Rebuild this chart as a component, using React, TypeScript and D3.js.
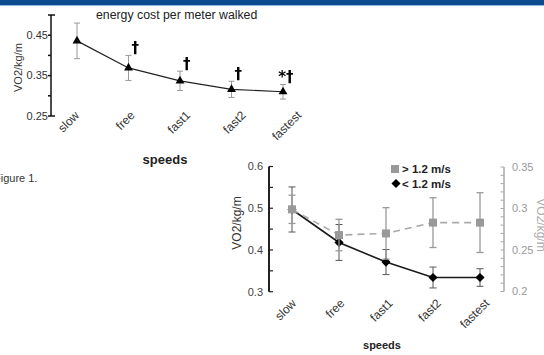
import React from "react";
import * as d3 from "d3";

// categories shared by both panels
const speeds = ["slow", "free", "fast1", "fast2", "fastest"];

// top panel: energy cost per meter walked
const energyMean = [0.436, 0.369, 0.337, 0.316, 0.31];
const energyErr = [0.044, 0.031, 0.024, 0.02, 0.018];
const energySig = ["", "†", "†", "†", "*†"];
const topTicks = [0.25, 0.35, 0.45];

// bottom panel: two speed groups, left and right axes
const under12Mean = [0.497, 0.418, 0.371, 0.334, 0.334];
const under12Err = [0.054, 0.043, 0.03, 0.025, 0.021];
const over12Mean = [0.299, 0.268, 0.27, 0.283, 0.283];
const over12Err = [0.017, 0.019, 0.031, 0.03, 0.036];
const leftTicks = [0.3, 0.4, 0.5, 0.6];
const rightTicks = [0.2, 0.25, 0.3, 0.35];
const legendLabels = ["> 1.2 m/s", "< 1.2 m/s"];

const FONT = "'Liberation Sans', Arial, sans-serif";
const W = 544;
const H = 355;

function ErrBar({ x, y0, y1, color, cap = 3, width = 1 }) {
  return (
    <g stroke={color} strokeWidth={width}>
      <line x1={x} x2={x} y1={y0} y2={y1} />
      <line x1={x - cap} x2={x + cap} y1={y0} y2={y0} />
      <line x1={x - cap} x2={x + cap} y1={y1} y2={y1} />
    </g>
  );
}

function TopChart() {
  const x = d3.scalePoint().domain(speeds).range([77, 283]);
  const xLab = d3.scalePoint().domain(speeds).range([80, 302]);
  const y = d3.scaleLinear().domain([0.25, 0.5]).range([116, 15]);
  const axisX = 51;
  const minor = y.ticks(5).filter((t) => !topTicks.some((m) => Math.abs(m - t) < 1e-6));
  const pts = speeds.map((s, i) => [x(s), y(energyMean[i])]);
  const tri = d3.symbol(d3.symbolTriangle, 34)();

  return (
    <g fontFamily={FONT}>
      <text x={96} y={19} fontSize={12.3} fill="#222">
        energy cost per meter walked
      </text>
      {/* y axis, bracket style */}
      <g stroke="#111" strokeWidth={1.5}>
        <line x1={axisX} x2={axisX} y1={y(0.5)} y2={y(0.25)} />
        <line x1={axisX} x2={axisX + 4} y1={y(0.5)} y2={y(0.5)} />
        <line x1={axisX} x2={axisX + 4} y1={y(0.25)} y2={y(0.25)} />
        {topTicks.concat(minor).map((t) => (
          <line key={t} x1={axisX - 3} x2={axisX} y1={y(t)} y2={y(t)} />
        ))}
      </g>
      {topTicks.map((t) => (
        <text key={t} x={axisX - 3} y={y(t)} dy="0.35em" textAnchor="end" fontSize={11} fill="#333">
          {t.toFixed(2)}
        </text>
      ))}
      <text transform={`translate(22,${y(0.37)}) rotate(-90)`} textAnchor="middle" fontSize={11} fill="#333">
        VO2/kg/m
      </text>
      {speeds.map((s) => (
        <text
          key={s}
          transform={`translate(${xLab(s)},116) rotate(-45)`}
          textAnchor="end"
          fontSize={12}
          fill="#333"
        >
          {s}
        </text>
      ))}
      <text x={165} y={164} textAnchor="middle" fontSize={13} fontWeight="bold" fill="#222">
        speeds
      </text>
      {speeds.map((s, i) => (
        <ErrBar
          key={s}
          x={x(s)}
          y0={y(energyMean[i] + energyErr[i])}
          y1={y(energyMean[i] - energyErr[i])}
          color="#999"
        />
      ))}
      <path d={d3.line()(pts)} fill="none" stroke="#222" strokeWidth={1.2} />
      {pts.map((p, i) => (
        <path key={i} d={tri} transform={`translate(${p[0]},${p[1]})`} fill="#000" />
      ))}
      {/* significance marks, desaturated to avoid colour fringes */}
      <g filter="url(#desat)">
        {speeds.map((s, i) =>
          energySig[i] ? (
            <text
              key={s}
              x={x(s) + 10.5}
              y={y(energyMean[i] + energyErr[i]) - 2}
              textAnchor="end"
              fontSize={15}
              fontWeight="bold"
              fontFamily="'DejaVu Sans', sans-serif"
              fill="#000"
            >
              {energySig[i]}
            </text>
          ) : null
        )}
      </g>
      <text x={-6} y={182} fontSize={11} fill="#333">
        Figure 1.
      </text>
    </g>
  );
}

function BottomChart() {
  const x = d3.scalePoint().domain(speeds).range([292, 480]);
  const xLab = d3.scalePoint().domain(speeds).range([297, 490]);
  const yL = d3.scaleLinear().domain([0.3, 0.6]).range([291.7, 166.5]);
  const yR = d3.scaleLinear().domain([0.2, 0.35]).range([291.5, 167]);
  const lx = 269;
  const rx = 504;
  const blackPts = speeds.map((s, i) => [x(s), yL(under12Mean[i])]);
  const grayPts = speeds.map((s, i) => [x(s), yR(over12Mean[i])]);
  const sq = d3.symbol(d3.symbolSquare, 64)();
  const dia = d3.symbol(d3.symbolSquare, 42)();

  return (
    <g fontFamily={FONT}>
      {/* left axis */}
      <g stroke="#222">
        <line x1={lx} x2={lx} y1={yL(0.6)} y2={yL(0.3)} strokeWidth={2} />
        {yL.ticks(6).map((t) => (
          <line key={t} x1={lx} x2={lx + 4} y1={yL(t)} y2={yL(t)} strokeWidth={1.2} />
        ))}
      </g>
      {leftTicks.map((t) => (
        <text key={t} x={lx - 6} y={yL(t)} dy="0.35em" textAnchor="end" fontSize={11} fill="#444">
          {t.toFixed(1)}
        </text>
      ))}
      <text transform={`translate(241,223) rotate(-90)`} textAnchor="middle" fontSize={12} fill="#333">
        VO2/kg/m
      </text>
      {/* right axis */}
      <g stroke="#aaa">
        <line x1={rx} x2={rx} y1={yR(0.35)} y2={yR(0.2)} strokeWidth={1.5} />
        {yR.ticks(15).map((t) => (
          <line key={t} x1={rx - 3.5} x2={rx} y1={yR(t)} y2={yR(t)} strokeWidth={1} />
        ))}
      </g>
      {rightTicks.map((t) => (
        <text key={t} x={rx + 8} y={yR(t)} dy="0.35em" fontSize={11} fill="#999">
          {String(t)}
        </text>
      ))}
      <text transform={`translate(537,225) rotate(90)`} textAnchor="middle" fontSize={12} fill="#aaa">
        VO2/kg/m
      </text>
      {speeds.map((s) => (
        <text
          key={s}
          transform={`translate(${xLab(s)},304) rotate(-45)`}
          textAnchor="end"
          fontSize={12}
          fill="#333"
        >
          {s}
        </text>
      ))}
      <text x={382} y={349} textAnchor="middle" fontSize={11} fontWeight="bold" fill="#222">
        speeds
      </text>
      {/* < 1.2 m/s series (left axis) */}
      {speeds.map((s, i) => (
        <ErrBar
          key={s}
          x={x(s)}
          y0={yL(under12Mean[i] + under12Err[i])}
          y1={yL(under12Mean[i] - under12Err[i])}
          color="#555"
          cap={3.5}
        />
      ))}
      <path d={d3.line()(blackPts)} fill="none" stroke="#1a1a1a" strokeWidth={1.6} />
      {blackPts.map((p, i) => (
        <path key={i} d={dia} transform={`translate(${p[0]},${p[1]}) rotate(45)`} fill="#000" />
      ))}
      {/* > 1.2 m/s series (right axis) */}
      {speeds.map((s, i) => (
        <ErrBar
          key={s}
          x={x(s)}
          y0={yR(over12Mean[i] + over12Err[i])}
          y1={yR(over12Mean[i] - over12Err[i])}
          color="#999"
          cap={3.5}
          width={1.3}
        />
      ))}
      <path d={d3.line()(grayPts)} fill="none" stroke="#aaa" strokeWidth={1.6} strokeDasharray="7,5" />
      {grayPts.map((p, i) => (
        <path key={i} d={sq} transform={`translate(${p[0]},${p[1]})`} fill="#999" />
      ))}
      {/* legend */}
      <path d={sq} transform="translate(395,169)" fill="#999" />
      <path d={dia} transform="translate(396,183.5) rotate(45)" fill="#000" />
      {legendLabels.map((l, i) => (
        <text key={l} x={402} y={173 + i * 14.5} fontSize={11.5} fontWeight="bold" fill="#222">
          {l}
        </text>
      ))}
    </g>
  );
}

export default function App() {
  return (
    <svg
      width={W}
      height={H}
      style={{ position: "absolute", left: 0, top: 0, background: "#fff" }}
    >
      <defs>
        <filter id="desat" x="-20%" y="-20%" width="140%" height="140%">
          <feColorMatrix type="saturate" values="0" />
        </filter>
      </defs>
      <rect x={0} y={0} width={W} height={5} fill="#0b4a8e" />
      <line x1={0} x2={W} y1={5.5} y2={5.5} stroke="#8fb8da" />
      <TopChart />
      <BottomChart />
    </svg>
  );
}
